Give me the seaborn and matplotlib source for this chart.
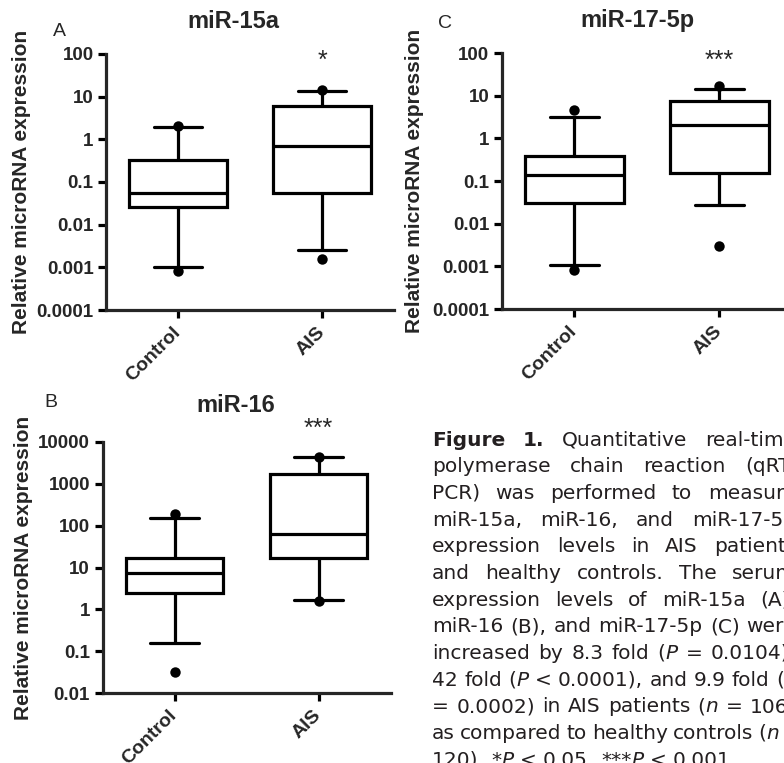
import re
import matplotlib
matplotlib.use("Agg")
import matplotlib.pyplot as plt
from matplotlib.ticker import NullLocator
import pandas as pd
import seaborn as sns

groups = ["Control", "AIS"]

# box stats: lower whisker, Q1, median, Q3, upper whisker
mir15a_control = [0.001, 0.026, 0.055, 0.335, 1.95]
mir15a_ais = [0.0025, 0.055, 0.70, 6.0, 13.8]
mir15a_dots_control = [0.0008, 2.0]
mir15a_dots_ais = [0.0016, 14.5]

mir16_control = [0.16, 2.5, 7.5, 16.4, 150]
mir16_ais = [1.64, 17.3, 63, 1730, 4200]
mir16_dots_control = [0.033, 190]
mir16_dots_ais = [1.6, 4400]

mir17_control = [0.0011, 0.031, 0.14, 0.38, 3.16]
mir17_ais = [0.0275, 0.155, 2.0, 7.5, 14]
mir17_dots_control = [0.0008, 4.5]
mir17_dots_ais = [0.003, 16.5]

ticks_small = [0.0001, 0.001, 0.01, 0.1, 1, 10, 100]
labels_small = ["0.0001", "0.001", "0.01", "0.1", "1", "10", "100"]
ticks_large = [0.01, 0.1, 1, 10, 100, 1000, 10000]
labels_large = ["0.01", "0.1", "1", "10", "100", "1000", "10000"]

caption_lines = [
    "<b>Figure</b> <b>1.</b> Quantitative real-time",
    "polymerase chain reaction (qRT-",
    "PCR) was performed to measure",
    "miR-15a, miR-16, and miR-17-5p",
    "expression levels in AIS patients",
    "and healthy controls. The serum",
    "expression levels of miR-15a (A),",
    "miR-16 (B), and miR-17-5p (C) were",
    "increased by 8.3 fold (<i>P</i> = 0.0104),",
    "42 fold (<i>P</i> < 0.0001), and 9.9 fold (<i>P</i>",
    "= 0.0002) in AIS patients (<i>n</i> = 106)",
    "as compared to healthy controls (<i>n</i> =",
    "120). *<i>P</i> < 0.05, ***<i>P</i> < 0.001.",
]

sns.set_style("ticks")
plt.rcParams["font.family"] = ["Liberation Sans", "DejaVu Sans"]

W, H = 784, 763
fig = plt.figure(figsize=(W / 100, H / 100), dpi=100)


def box_px(left, top, right, bottom):
    return [left / W, 1 - bottom / H, (right - left) / W, (bottom - top) / H]


def draw_panel(ax, ctrl, ais, dots_c, dots_a, ticks, labels, stars, star_y):
    box = pd.DataFrame({"group": ["Control"] * len(ctrl) + ["AIS"] * len(ais),
                        "value": ctrl + ais})
    pts = pd.DataFrame({"group": ["Control"] * len(dots_c) + ["AIS"] * len(dots_a),
                        "value": dots_c + dots_a})
    ax.set_yscale("log")
    sns.boxplot(data=box, x="group", y="value", order=groups, whis=(0, 100),
                width=0.68, color="white", linecolor="black", linewidth=2.3,
                fliersize=0, ax=ax)
    sns.stripplot(data=pts, x="group", y="value", order=groups, jitter=False,
                  color="black", size=7.5, ax=ax, zorder=5)
    ax.set_ylim(ticks[0], ticks[-1])
    ax.set_xlim(-0.5, 1.5)
    ax.set_yticks(ticks)
    ax.set_yticklabels(labels, fontweight="bold", fontsize=13.5)
    ax.yaxis.set_minor_locator(NullLocator())
    ax.set_xticks([0, 1])
    ax.set_xticklabels(groups, rotation=45, ha="right", va="center",
                       rotation_mode="anchor", fontweight="bold", fontsize=14)
    ax.set_xlabel("")
    ax.set_ylabel("Relative microRNA expression", fontweight="bold",
                  fontsize=15, va="center")
    sns.despine(ax=ax)
    for s in ["left", "bottom"]:
        ax.spines[s].set_linewidth(2.3)
    ax.tick_params(width=2.3, length=6, color="black", pad=3)
    ax.tick_params(axis="x", pad=8)
    ax.text(1, star_y, stars, transform=ax.get_xaxis_transform(), ha="center",
            va="baseline", fontsize=18, clip_on=False)


ax_a = fig.add_axes(box_px(106, 54, 394, 310))
draw_panel(ax_a, mir15a_control, mir15a_ais, mir15a_dots_control, mir15a_dots_ais,
           ticks_small, labels_small, "*", 0.945)
ax_a.yaxis.set_label_coords(-0.295, 0.5)

ax_c = fig.add_axes(box_px(502, 53, 792, 309))
draw_panel(ax_c, mir17_control, mir17_ais, mir17_dots_control, mir17_dots_ais,
           ticks_small, labels_small, "***", 0.942)
ax_c.yaxis.set_label_coords(-0.303, 0.5)

ax_b = fig.add_axes(box_px(102.5, 441.7, 390.5, 693.3))
draw_panel(ax_b, mir16_control, mir16_ais, mir16_dots_control, mir16_dots_ais,
           ticks_large, labels_large, "***", 1.022)
ax_b.yaxis.set_label_coords(-0.273, 0.5)

# titles and panel letters
fig.text(233.5 / W, 1 - 22 / H, "miR-15a", ha="center", va="center",
         fontsize=17, fontweight="bold")
fig.text(637 / W, 1 - 20 / H, "miR-17-5p", ha="center", va="center",
         fontsize=17, fontweight="bold")
fig.text(236 / W, 1 - 405 / H, "miR-16", ha="center", va="center",
         fontsize=17, fontweight="bold")
fig.text(59 / W, 1 - 31 / H, "A", ha="center", va="center", fontsize=14)
fig.text(445 / W, 1 - 23.5 / H, "C", ha="center", va="center", fontsize=14)
fig.text(50.5 / W, 1 - 402 / H, "B", ha="center", va="center", fontsize=14)

# justified caption, clipped by the right edge like the source page
cap_left, cap_right = 432, 796
cap_base, cap_step = 445.5, 26.67
cap_size = 14.5
cap_font = ["DejaVu Sans"]
cap_color = "#231f20"
renderer = fig.canvas.get_renderer()


def style_kw(tag):
    if tag == "b":
        return {"fontweight": "bold"}
    if tag == "i":
        return {"fontstyle": "italic"}
    return {}


def word_runs(word):
    out = []
    for part in re.split(r"(<[bi]>.*?</[bi]>)", word):
        if not part:
            continue
        m = re.match(r"<([bi])>(.*?)</[bi]>", part)
        out.append((m.group(2), m.group(1)) if m else (part, "n"))
    return out


def run_width(s, tag):
    t = fig.text(0, 0, s, fontsize=cap_size, family=cap_font, **style_kw(tag))
    w = t.get_window_extent(renderer).width
    t.remove()
    return w


space_w = run_width("a a", "n") - run_width("aa", "n")
for i, line in enumerate(caption_lines):
    words = [word_runs(w) for w in line.split(" ")]
    widths = [[run_width(s, tag) for s, tag in w] for w in words]
    total = sum(sum(w) for w in widths)
    if i < len(caption_lines) - 1 and len(words) > 1:
        gap = (cap_right - cap_left - total) / (len(words) - 1)
        gap = max(gap, 0.8 * space_w)
    else:
        gap = space_w
    x = cap_left
    y = cap_base + i * cap_step
    for w, ws in zip(words, widths):
        for (s, tag), rw in zip(w, ws):
            fig.text(x / W, 1 - y / H, s, fontsize=cap_size, family=cap_font,
                     color=cap_color, va="baseline", ha="left", **style_kw(tag))
            x += rw
        x += gap

fig.savefig("out.png", dpi=100)
